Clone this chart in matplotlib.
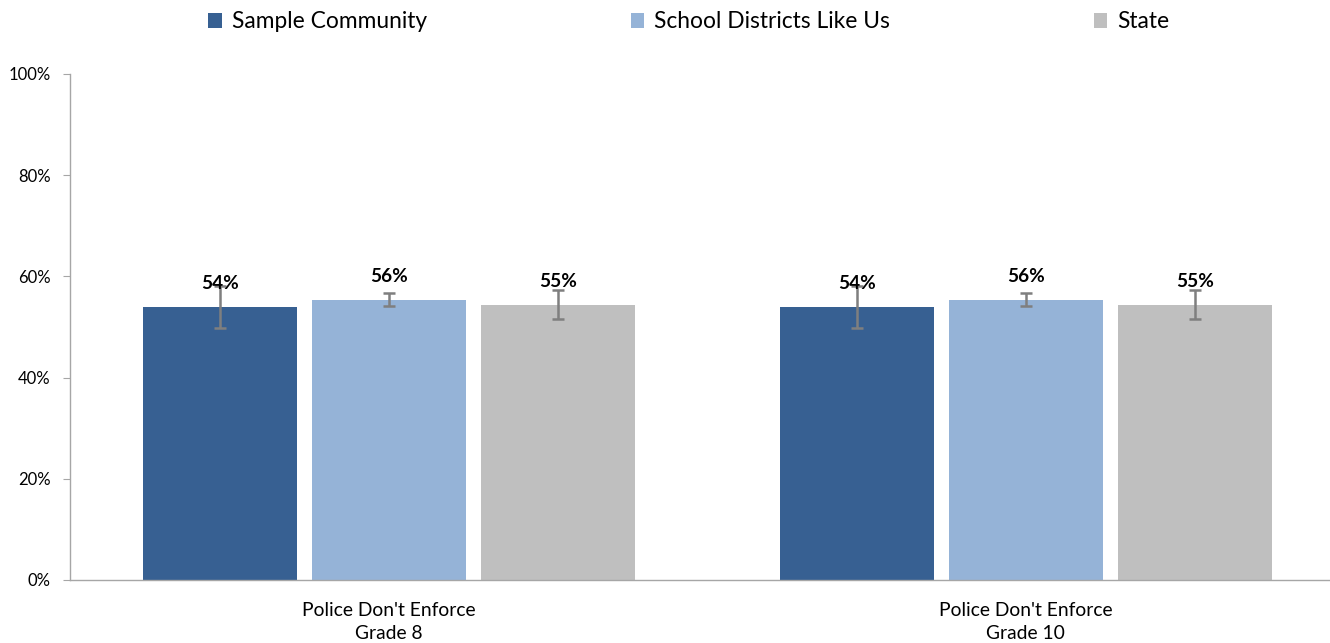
import matplotlib
matplotlib.use("Agg")
import matplotlib.pyplot as plt
import numpy as np

plt.rcParams['font.family'] = ['Lato', 'DejaVu Sans']

# Data
categories = ["Police Don't Enforce\nGrade 8", "Police Don't Enforce\nGrade 10"]
series_names = ["Sample Community", "School Districts Like Us", "State"]
values = [
    [54.0, 54.0],   # Sample Community
    [55.4, 55.4],   # School Districts Like Us
    [54.4, 54.4],   # State
]
errors = [
    [4.2, 4.2],
    [1.25, 1.25],
    [2.85, 2.85],
]
labels = [["54%", "54%"], ["56%", "56%"], ["55%", "55%"]]
colors = ["#376092", "#95B3D7", "#BFBFBF"]

W, H = 1330, 643
fig = plt.figure(figsize=(W / 100, H / 100), dpi=100)
ax = fig.add_axes([70 / W, 63 / H, 1274.5 / W, 506 / H])

x = np.arange(len(categories))
bar_w = 0.2418
step = 0.2653

handles = []
for i, name in enumerate(series_names):
    pos = x + (i - 1) * step
    b = ax.bar(pos, values[i], width=bar_w, color=colors[i], label=name, zorder=2)
    handles.append(b)
    ax.errorbar(pos, values[i], yerr=errors[i], fmt='none', ecolor='#7F7F7F',
                elinewidth=1.8, capsize=4.3, capthick=1.8, zorder=3)
    for px, v, lab in zip(pos, values[i], labels[i]):
        ax.annotate(lab, (px, v), xytext=(0, 17), textcoords='offset points',
                    ha='center', va='center', fontsize=13.7, fontweight='bold',
                    color='black', zorder=4)

ax.set_xlim(-0.5, 1.5)
ax.set_ylim(0, 100)
ax.set_yticks(np.arange(0, 101, 20))
ax.set_yticklabels([f"{t}%" for t in range(0, 101, 20)], fontsize=12)
ax.set_xticks(x)
ax.set_xticklabels(categories, fontsize=13.9, linespacing=1.38)
ax.tick_params(axis='x', length=0, pad=16)
ax.tick_params(axis='y', length=5, color='#A6A6A6', pad=9)

for s in ['top', 'right']:
    ax.spines[s].set_visible(False)
for s in ['left', 'bottom']:
    ax.spines[s].set_color('#A6A6A6')
    ax.spines[s].set_linewidth(1)

fig.legend(handles=handles, loc='center', bbox_to_anchor=(689 / W, 1 - 22 / H),
           ncol=3, frameon=False, fontsize=16.4, handlelength=0.58, handleheight=0.58,
           handletextpad=0.45, columnspacing=8.95, borderaxespad=0)

fig.savefig("out.png", dpi=100)
